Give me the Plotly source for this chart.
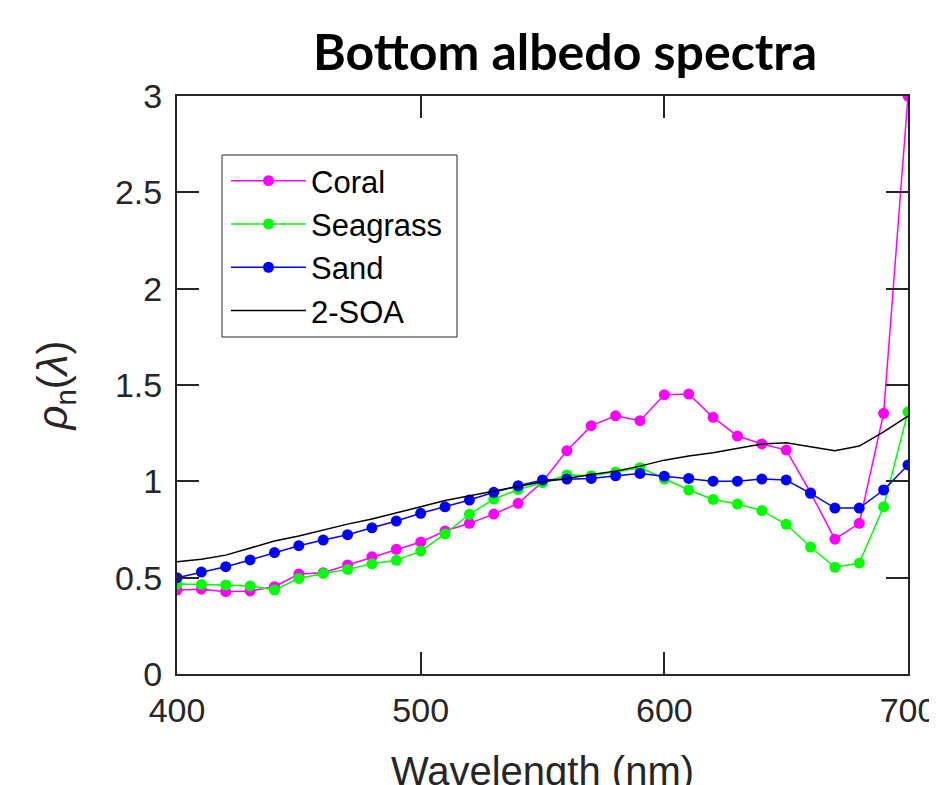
import plotly.graph_objects as go

wavelength = [400, 410, 420, 430, 440, 450, 460, 470, 480, 490, 500, 510, 520,
              530, 540, 550, 560, 570, 580, 590, 600, 610, 620,
              630, 640, 650, 660, 670, 680, 690, 700]

coral = [0.436, 0.44, 0.427, 0.431, 0.453, 0.519, 0.526, 0.566, 0.609, 0.647, 0.685, 0.742, 0.782,
         0.83, 0.886, 0.998, 1.159, 1.289, 1.34, 1.315, 1.45, 1.453, 1.332,
         1.235, 1.194, 1.162, 0.941, 0.70, 0.782, 1.353, 3.0]
seagrass = [0.467, 0.465, 0.462, 0.457, 0.436, 0.496, 0.522, 0.543, 0.572, 0.59, 0.638, 0.727, 0.829,
            0.908, 0.958, 0.993, 1.033, 1.029, 1.048, 1.071, 1.012, 0.955, 0.906,
            0.882, 0.848, 0.777, 0.659, 0.554, 0.576, 0.868, 1.361]
sand = [0.50, 0.529, 0.557, 0.592, 0.63, 0.666, 0.695, 0.723, 0.759, 0.794, 0.834, 0.868, 0.903,
        0.943, 0.977, 1.007, 1.012, 1.015, 1.029, 1.041, 1.027, 1.015, 1.001,
        1.001, 1.012, 1.007, 0.938, 0.861, 0.861, 0.955, 1.085]
soa2 = [0.583, 0.595, 0.617, 0.652, 0.69, 0.716, 0.747, 0.778, 0.804, 0.834, 0.868, 0.9, 0.925,
        0.948, 0.972, 0.998, 1.015, 1.036, 1.053, 1.079, 1.11, 1.131, 1.148,
        1.17, 1.194, 1.2, 1.18, 1.159, 1.183, 1.257, 1.339]

x_ticks = [400, 500, 600, 700]
y_ticks = [0, 0.5, 1, 1.5, 2, 2.5, 3]
y_ticklabels = ["0", "0.5", "1", "1.5", "2", "2.5", "3"]

FONT = "Liberation Sans, Arial, sans-serif"
AX = "#262626"

fig = go.Figure()
series = [("Coral", coral, "#FF00FF", True),
          ("Seagrass", seagrass, "#00FF00", True),
          ("Sand", sand, "#0000FF", True),
          ("2-SOA", soa2, "#000000", False)]
for name, vals, col, mk in series:
    fig.add_trace(go.Scatter(
        x=wavelength, y=vals, name=name,
        mode="lines+markers" if mk else "lines",
        line=dict(color=col, width=1.5),
        marker=dict(color=col, size=11) if mk else None,
    ))

# page body has an 8px margin; work in on-screen pixel coordinates
OFF = 8
FW, FH = 937, 785
PL, PR, PT, PB = 177 - OFF, 908 - OFF, 96 - OFF, 674 - OFF
W, H = PR - PL, PB - PT

fig.update_layout(
    width=FW, height=FH,
    margin=dict(l=PL, r=FW - PR, t=PT, b=FH - PB, autoexpand=False),
    plot_bgcolor="white", paper_bgcolor="white",
    font=dict(family=FONT, color=AX, size=30),
    title=dict(text="<b>Bottom albedo spectra</b>",
               font=dict(family="Lato, Carlito, sans-serif", size=50, color="black"),
               x=(565 - OFF - PL) / W, xanchor="center", xref="paper",
               y=1 - (52 - OFF) / FH, yanchor="middle"),
    showlegend=True,
    legend=dict(x=(226 - OFF - PL) / W, y=(PB - (154 - OFF)) / H, xanchor="left", yanchor="top",
                bgcolor="rgba(0,0,0,0)", borderwidth=0,
                font=dict(family=FONT, size=31, color="black"),
                itemwidth=75, tracegroupgap=0),
    shapes=[dict(type="rect", xref="paper", yref="paper",
                 x0=(222 - OFF - PL) / W, x1=(457 - OFF - PL) / W,
                 y0=(PB - (337 - OFF)) / H, y1=(PB - (155 - OFF)) / H,
                 line=dict(color=AX, width=1), fillcolor="rgba(0,0,0,0)", layer="above")],
)
fig.update_xaxes(range=[400, 700], tickvals=x_ticks, automargin=False,
                 ticks="inside", ticklen=22, tickwidth=2, tickcolor=AX,
                 showline=True, linecolor=AX, linewidth=2, mirror="ticks",
                 showgrid=False, zeroline=False, ticklabelstandoff=5,
                 tickfont=dict(size=34, family=FONT, color=AX),
                 title=dict(text="Wavelength (nm)", font=dict(size=40, family=FONT, color=AX), standoff=31))
fig.update_yaxes(range=[0, 3], tickvals=y_ticks, ticktext=y_ticklabels, automargin=False,
                 ticks="inside", ticklen=22, tickwidth=2, tickcolor=AX,
                 showline=True, linecolor=AX, linewidth=2, mirror="ticks",
                 showgrid=False, zeroline=False, ticklabelstandoff=6,
                 tickfont=dict(size=34, family=FONT, color=AX),
                 title=dict(text="<i>ρ</i><sub>n</sub>(<i>λ</i>)", font=dict(size=42, family=FONT, color=AX), standoff=34))

fig.write_html("out.html")
